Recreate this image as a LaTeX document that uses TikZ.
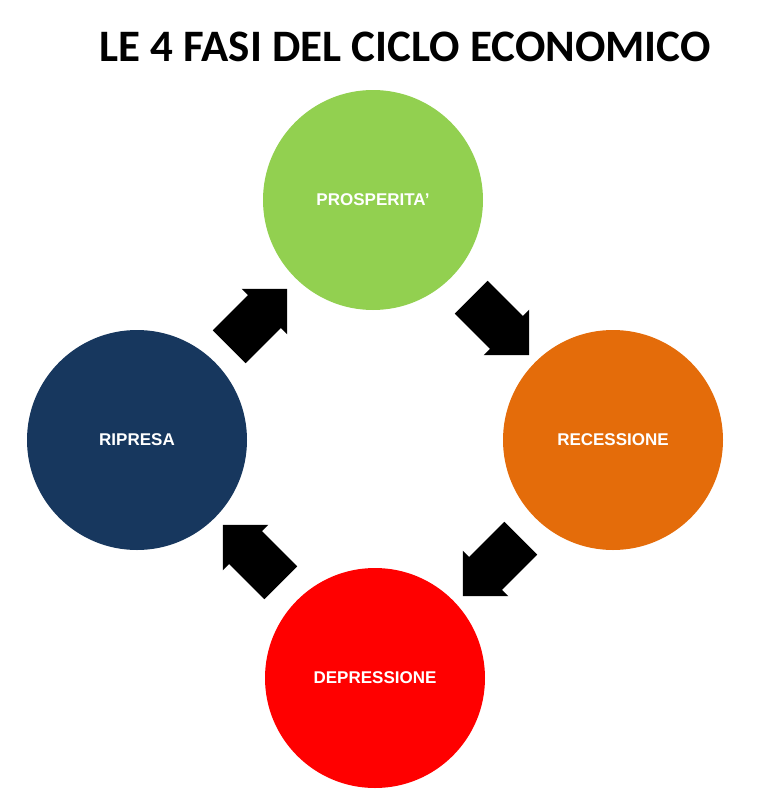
\documentclass[tikz,border=0pt]{standalone}
\usepackage{fontspec}
\setmainfont{Liberation Sans}
\newfontfamily\titlefont{Carlito}
\usetikzlibrary{shapes.arrows}
\definecolor{verde}{RGB}{146,208,80}
\definecolor{arancio}{RGB}{228,108,10}
\definecolor{rosso}{RGB}{255,0,0}
\definecolor{blu}{RGB}{23,55,94}
\tikzset{
  fase/.style={circle,minimum size=220pt,inner sep=0pt,text=white,
    font=\fontsize{17}{20}\selectfont\bfseries},
  freccia/.style={single arrow,fill=black,draw=none,inner sep=0pt,
    minimum height=82pt,single arrow head extend=9pt}
}
\begin{document}
\begin{tikzpicture}[x=1pt,y=-1pt]
\useasboundingbox (0,0) rectangle (767,801);
\node (titolo) at (405,47) {\titlefont\fontsize{45}{48}\selectfont\bfseries LE 4 FASI DEL CICLO ECONOMICO};
\node (P) at (373,200)[fase,fill=verde] {PROSPERITA'};
\node (R) at (613,440)[fase,fill=arancio] {RECESSIONE};
\node (D) at (375,678)[fase,fill=rosso] {DEPRESSIONE};
\node (Ri) at (137,440)[fase,fill=blu] {RIPRESA};
\node (f1) at (250,326)[freccia,rotate=45] {\rule{0pt}{46pt}};
\node (f2) at (492,318)[freccia,rotate=-45] {\rule{0pt}{46pt}};
\node (f3) at (500,559)[freccia,rotate=-135] {\rule{0pt}{46pt}};
\node (f4) at (260,562)[freccia,rotate=135] {\rule{0pt}{46pt}};
\end{tikzpicture}
\end{document}
